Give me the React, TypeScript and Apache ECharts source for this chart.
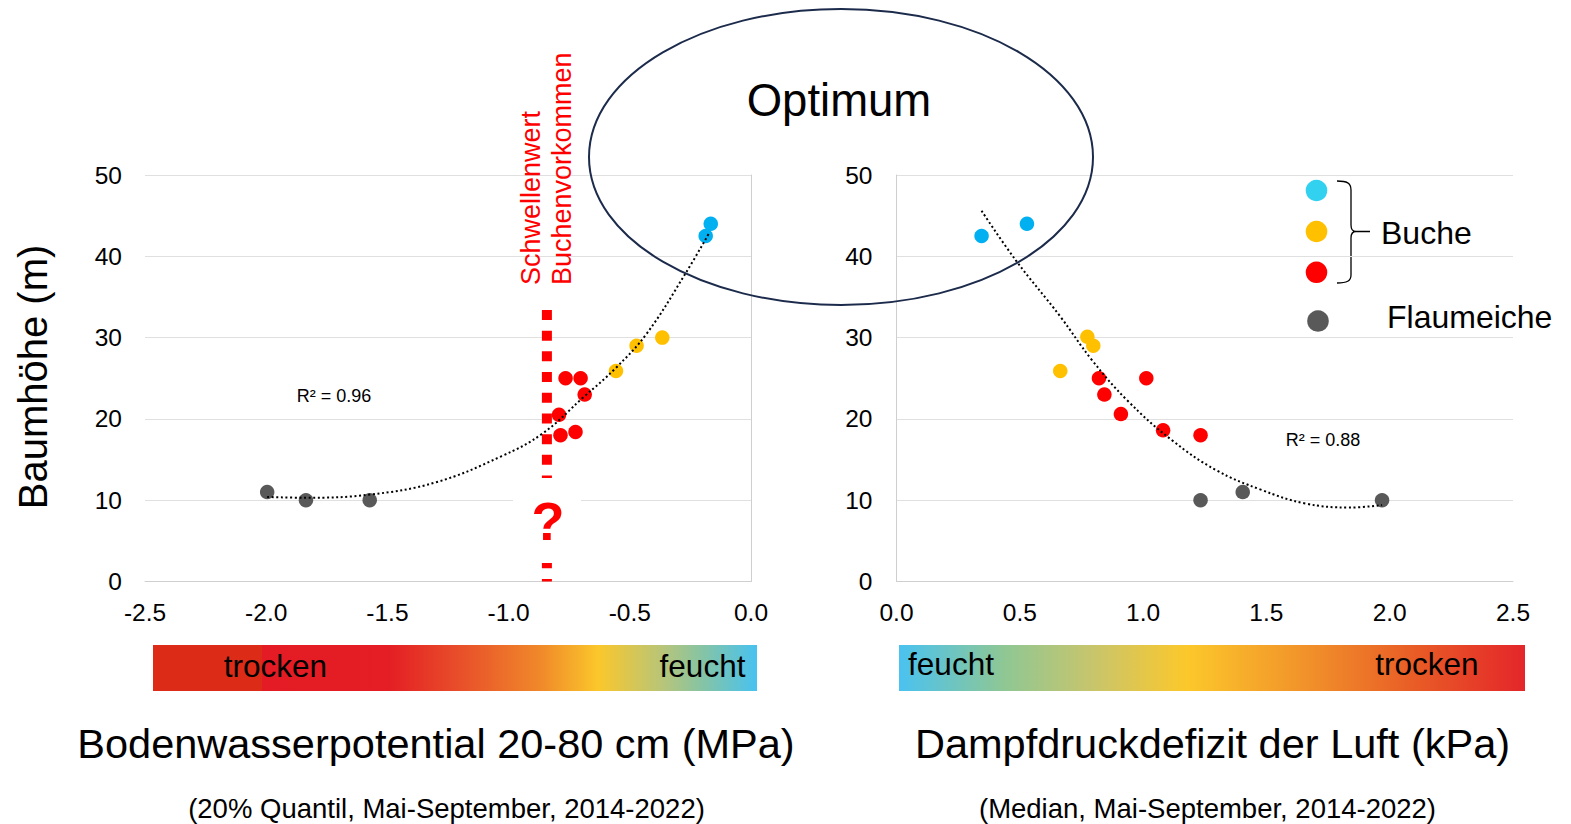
import React, { useEffect, useRef } from "react";
import * as echarts from "echarts";

// ---- data ----
const leftBlue = [[-0.187, 42.5], [-0.166, 44.0]];
const leftYellow = [[-0.557, 25.9], [-0.472, 29.0], [-0.366, 30.0]];
const leftRed = [[-0.765, 25.0], [-0.703, 25.0], [-0.686, 23.0], [-0.792, 20.5], [-0.786, 18.0], [-0.724, 18.4]];
const leftGray = [[-1.996, 11.0], [-1.836, 10.0], [-1.573, 10.0]];
const leftTrend = [[-1.996, 10.4], [-1.84, 10.3], [-1.57, 10.7], [-1.3, 12.2], [-1.03, 15.4], [-0.86, 18.2], [-0.69, 22.7], [-0.56, 26.2], [-0.43, 30.5], [-0.27, 37.9], [-0.17, 43.0]];

const rightBlue = [[0.345, 42.5], [0.529, 44.0]];
const rightYellow = [[0.774, 30.1], [0.798, 29.0], [0.664, 25.9]];
const rightRed = [[0.821, 25.0], [1.013, 25.0], [0.843, 23.0], [0.91, 20.6], [1.081, 18.6], [1.233, 18.0]];
const rightGray = [[1.233, 10.0], [1.404, 11.0], [1.969, 10.0]];
const rightTrend = [[0.345, 45.6], [0.484, 39.5], [0.664, 32.6], [0.791, 27.3], [0.935, 22.3], [1.116, 17.4], [1.296, 13.7], [1.477, 11.3], [1.657, 9.6], [1.838, 9.1], [1.969, 9.4]];

const thresholdX = -0.842;
const thresholdTop = 33.4;

const leftXRange = [-2.5, 0];
const rightXRange = [0, 2.5];
const yRange = [0, 50];
const xInterval = 0.5;
const yInterval = 10;

const r2Left = "R² = 0.96";
const r2Right = "R² = 0.88";
const leftTitle = "Bodenwasserpotential 20-80 cm (MPa)";
const rightTitle = "Dampfdruckdefizit der Luft (kPa)";
const leftSub = "(20% Quantil, Mai-September, 2014-2022)";
const rightSub = "(Median, Mai-September, 2014-2022)";
const yTitle = "Baumhöhe (m)";
const legendGroup = "Buche";
const legendOak = "Flaumeiche";

const FONT = "'Liberation Sans', Arial, Helvetica, sans-serif";
const C_BLUE = "#00b0f0";
const C_YELLOW = "#ffc000";
const C_RED = "#ff0000";
const C_GRAY = "#595959";

const BRACE =
  "M1337,181 C1347,181 1351,183 1351,190 L1351,225 C1351,229 1353,231.5 1356,231.5 L1370,231.5 M1356,231.5 C1353,231.5 1351,234 1351,238 L1351,275 C1351,281 1347,283 1337,283";

let registered = false;

function xAxisCfg(grid: number, range: number[]) {
  return {
    gridIndex: grid,
    type: "value",
    min: range[0],
    max: range[1],
    interval: xInterval,
    axisLine: { show: true, onZero: false, lineStyle: { color: "#cfcfcf", width: 1 } },
    axisTick: { show: false },
    splitLine: { show: false },
    axisLabel: {
      formatter: (v: number) => v.toFixed(1),
      fontSize: 24.5,
      color: "#000",
      margin: 18,
      fontFamily: FONT,
      showMinLabel: true,
      showMaxLabel: true,
    },
  };
}

function yAxisCfg(grid: number, pos: string, labels: boolean, line: boolean, margin: number) {
  return {
    gridIndex: grid,
    type: "value",
    position: pos,
    min: yRange[0],
    max: yRange[1],
    interval: yInterval,
    axisLine: { show: line, lineStyle: { color: "#cfcfcf", width: 1 } },
    axisTick: { show: false },
    splitLine: { show: labels, lineStyle: { color: "#e0e0e0", width: 1 } },
    axisLabel: { show: labels, fontSize: 24.5, color: "#000", margin, fontFamily: FONT },
  };
}

function scatter(x: number, y: number, data: number[][], color: string) {
  return {
    type: "scatter",
    xAxisIndex: x,
    yAxisIndex: y,
    data,
    symbol: "circle",
    symbolSize: 14.5,
    itemStyle: { color, opacity: 1 },
    silent: true,
    z: 2,
  };
}

function trend(x: number, y: number, data: number[][]) {
  return {
    type: "line",
    xAxisIndex: x,
    yAxisIndex: y,
    data,
    smooth: 0.4,
    symbol: "none",
    lineStyle: { color: "#000", width: 2, type: [2, 2.6] },
    silent: true,
    z: 3,
  };
}

function txt(text: string, x: number, y: number, size: number, opts: any = {}) {
  return {
    type: "text",
    x,
    y,
    rotation: opts.rotation || 0,
    z: opts.z || 50,
    silent: true,
    style: {
      text,
      fontSize: size,
      fontFamily: FONT,
      fontWeight: opts.weight || "normal",
      fill: opts.color || "#000",
      align: opts.align || "center",
      verticalAlign: "middle",
    },
  };
}

export default function App() {
  const ref = useRef<HTMLDivElement>(null);

  useEffect(() => {
    document.body.style.margin = "0";
    document.body.style.overflow = "hidden";
    if (!registered) {
      echarts.graphic.registerShape("brace", echarts.graphic.extendPath(BRACE, {}) as any);
      registered = true;
    }
    const chart = echarts.init(ref.current!, undefined, { renderer: "svg" });

    const leftGrad = new echarts.graphic.LinearGradient(0, 0, 1, 0, [
      { offset: 0, color: "#dc2c17" },
      { offset: 0.18, color: "#dc2c17" },
      { offset: 0.181, color: "#e41b24" },
      { offset: 0.39, color: "#e41e24" },
      { offset: 0.51, color: "#e8502a" },
      { offset: 0.644, color: "#f08a2a" },
      { offset: 0.737, color: "#fbc72b" },
      { offset: 0.843, color: "#b8c578" },
      { offset: 0.909, color: "#86c4a4" },
      { offset: 1, color: "#48c2f0" },
    ]);
    const rightGrad = new echarts.graphic.LinearGradient(0, 0, 1, 0, [
      { offset: 0, color: "#4ac2f0" },
      { offset: 0.168, color: "#8fc794" },
      { offset: 0.31, color: "#c8c56c" },
      { offset: 0.46, color: "#fcc82b" },
      { offset: 0.67, color: "#f08c2a" },
      { offset: 0.83, color: "#e85a26" },
      { offset: 1, color: "#e4262a" },
    ]);

    const option: any = {
      animation: false,
      backgroundColor: "#fff",
      grid: [
        { left: 145, top: 175, width: 606, height: 406.5 },
        { left: 896.5, top: 175, width: 616.5, height: 406.5 },
      ],
      xAxis: [xAxisCfg(0, leftXRange), xAxisCfg(1, rightXRange)],
      yAxis: [
        yAxisCfg(0, "left", true, false, 23),
        yAxisCfg(0, "right", false, true, 8),
        yAxisCfg(1, "left", true, true, 24),
      ],
      series: [
        scatter(0, 0, leftGray, C_GRAY),
        scatter(0, 0, leftRed, C_RED),
        scatter(0, 0, leftYellow, C_YELLOW),
        scatter(0, 0, leftBlue, C_BLUE),
        {
          type: "line",
          xAxisIndex: 0,
          yAxisIndex: 0,
          data: [[thresholdX, thresholdTop], [thresholdX, 0]],
          symbol: "none",
          lineStyle: { color: "#ff0000", width: 10, type: [10, 10.7], cap: "butt" },
          silent: true,
          z: 2,
        },
        trend(0, 0, leftTrend),
        scatter(1, 2, rightGray, C_GRAY),
        scatter(1, 2, rightRed, C_RED),
        scatter(1, 2, rightYellow, C_YELLOW),
        scatter(1, 2, rightBlue, C_BLUE),
        trend(1, 2, rightTrend),
      ],
      graphic: [
        // white box behind question mark
        { type: "rect", z: 100, silent: true, shape: { x: 513, y: 478, width: 68, height: 85 }, style: { fill: "#fff" } },
        txt("?", 548, 521, 54, { color: "#ff0000", weight: "bold", z: 101 }),
        // threshold label
        txt("Schwellenwert", 531, 285, 27, { color: "#ff0000", rotation: Math.PI / 2, align: "left" }),
        txt("Buchenvorkommen", 562, 285, 27, { color: "#ff0000", rotation: Math.PI / 2, align: "left" }),
        // optimum ellipse
        {
          type: "ellipse",
          z: 60,
          silent: true,
          shape: { cx: 841, cy: 157, rx: 252, ry: 148 },
          style: { fill: "none", stroke: "#1c2b4b", lineWidth: 2 },
        },
        txt("Optimum", 839, 100, 45.5),
        // R² labels
        txt(r2Left, 334, 396, 18),
        txt(r2Right, 1323, 440, 18),
        // y title
        txt(yTitle, 33, 377, 40, { rotation: Math.PI / 2 }),
        // gradient bars
        { type: "rect", silent: true, shape: { x: 153, y: 645, width: 604, height: 46 }, style: { fill: leftGrad } },
        { type: "rect", silent: true, shape: { x: 899, y: 645, width: 626, height: 46 }, style: { fill: rightGrad } },
        txt("trocken", 275.5, 666, 31.5),
        txt("feucht", 702.5, 666, 31.5),
        txt("feucht", 951, 663.5, 31.5),
        txt("trocken", 1427, 663.5, 31.5),
        // axis titles
        txt(leftTitle, 436, 743, 41.5),
        txt(rightTitle, 1212.5, 743, 41.5),
        txt(leftSub, 446.5, 808, 27.5),
        txt(rightSub, 1207.5, 808, 27.5),
        // legend
        { type: "circle", silent: true, shape: { cx: 1316.5, cy: 190.5, r: 10.8 }, style: { fill: "#33d1f0" } },
        { type: "circle", silent: true, shape: { cx: 1316.5, cy: 231.5, r: 10.8 }, style: { fill: C_YELLOW } },
        { type: "circle", silent: true, shape: { cx: 1316.5, cy: 272.3, r: 10.8 }, style: { fill: C_RED } },
        { type: "circle", silent: true, shape: { cx: 1318, cy: 321, r: 10.8 }, style: { fill: C_GRAY } },
        { type: "brace", silent: true, x: 0, y: 0, scaleX: 1, scaleY: 1, style: { fill: "none", stroke: "#000", lineWidth: 1.3 } },
        txt(legendGroup, 1381, 233, 32, { align: "left" }),
        txt(legendOak, 1387, 317, 32, { align: "left" }),
      ],
    };

    chart.setOption(option);
    return () => chart.dispose();
  }, []);

  return <div ref={ref} style={{ width: 1571, height: 824 }} />;
}
